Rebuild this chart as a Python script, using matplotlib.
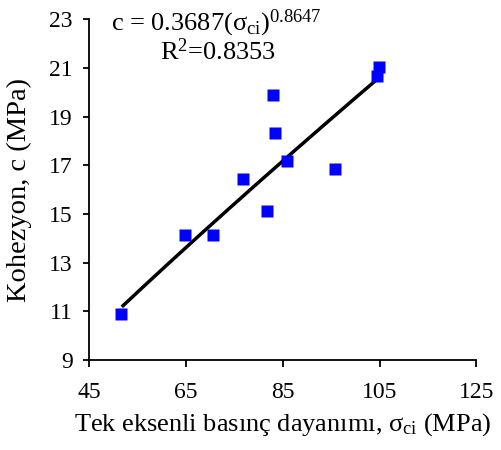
import numpy as np
import matplotlib
matplotlib.use("Agg")
import matplotlib.pyplot as plt

plt.rcParams["font.family"] = ["Liberation Serif", "DejaVu Serif"]
plt.rcParams["mathtext.fontset"] = "custom"
plt.rcParams["mathtext.rm"] = "Liberation Serif"
plt.rcParams["mathtext.it"] = "Liberation Serif:italic"
plt.rcParams["mathtext.bf"] = "Liberation Serif:bold"

# Uniaxial compressive strength (MPa) and cohesion (MPa)
sigma_ci = [51.5, 64.8, 70.6, 76.8, 81.8, 83.0, 83.4, 85.9, 95.8, 104.5, 104.9]
cohesion = [10.88, 14.13, 14.12, 16.44, 15.13, 19.89, 18.34, 17.19, 16.86, 20.66, 21.05]

# Power-law fit c = a * sigma_ci^b
fit_a = 0.3687
fit_b = 0.8647
fit_range = [52.0, 105.0]

x_ticks = [45, 65, 85, 105, 125]
y_ticks = [9, 11, 13, 15, 17, 19, 21, 23]

fig = plt.figure(figsize=(5.01, 4.5), dpi=100)
ax = fig.add_axes([0.178, 0.2, 0.773, 0.757])

xf = np.linspace(fit_range[0], fit_range[1], 200)
ax.plot(xf, fit_a * xf ** fit_b, color="black", lw=2.5, zorder=2)
ax.plot(sigma_ci, cohesion, "s", color="#0000ff", ms=8.5, mec="none", zorder=3)

ax.set_xlim(45, 125)
ax.set_ylim(9, 23)
ax.set_xticks(x_ticks)
ax.set_yticks(y_ticks)
ax.tick_params(direction="out", length=5, width=1.3, labelsize=17, colors="black")
ax.tick_params(axis="x", pad=11)
ax.tick_params(axis="y", length=4, pad=8)
for s in ["top", "right"]:
    ax.spines[s].set_visible(False)
for s in ["left", "bottom"]:
    ax.spines[s].set_linewidth(1.3)

ax.set_xlabel(r"Tek eksenli basınç dayanımı, σ$_{\mathrm{ci}}$ (MPa)", fontsize=19, labelpad=6)
ax.set_ylabel("Kohezyon, c (MPa)", fontsize=20.5, labelpad=12)

ax.text(0.056, 0.966, r"c = 0.3687(σ$_{\mathrm{ci}}$)$^{0.8647}$", transform=ax.transAxes,
        fontsize=19, ha="left", va="baseline")
ax.text(0.183, 0.88, r"R$^{2}$=0.8353", transform=ax.transAxes,
        fontsize=19, ha="left", va="baseline")

fig.savefig("out.png", dpi=100)
